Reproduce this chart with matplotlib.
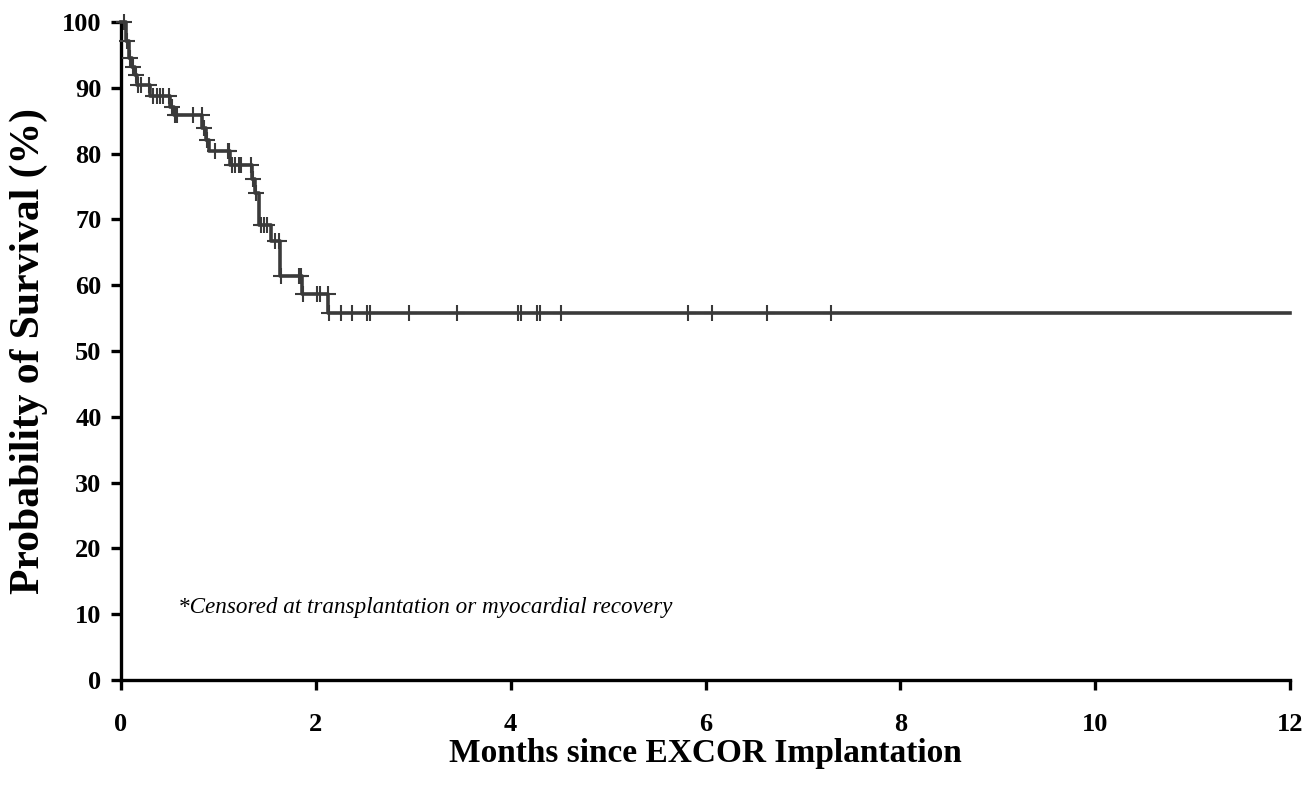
import numpy as np
import matplotlib
matplotlib.use("Agg")
import matplotlib.pyplot as plt

# Kaplan-Meier step data (months, % surviving)
event_times = [0, 0.05, 0.08, 0.11, 0.14, 0.16, 0.30, 0.50, 0.54, 0.835, 0.87, 0.90,
               1.12, 1.34, 1.375, 1.42, 1.54, 1.63, 1.86, 2.13]
survival = [100, 97.1, 94.5, 93.1, 91.9, 90.4, 88.8, 87.1, 85.8, 83.9, 82.1, 80.4,
            78.3, 76.2, 74.0, 69.1, 66.7, 61.4, 58.6, 55.7]
follow_up_end = 12.0

# censored observations (months)
censor_times = [0.03, 0.06, 0.09, 0.12, 0.15, 0.17, 0.21, 0.29,
                0.33, 0.37, 0.40, 0.43, 0.49, 0.52, 0.55, 0.57, 0.74, 0.83,
                0.85, 0.88, 0.965, 1.10, 1.11, 1.14, 1.17, 1.21, 1.23, 1.33,
                1.36, 1.39, 1.44, 1.47, 1.50, 1.58, 1.62, 1.64, 1.83, 1.85,
                1.87, 2.01, 2.04, 2.12, 2.14, 2.26, 2.37, 2.53, 2.56, 2.96,
                3.45, 4.08, 4.11, 4.27, 4.30, 4.52, 5.82, 6.07, 6.63, 7.29]

x_ticks = [0, 2, 4, 6, 8, 10, 12]
y_ticks = [0, 10, 20, 30, 40, 50, 60, 70, 80, 90, 100]

plt.rcParams['font.family'] = ['Liberation Serif', 'DejaVu Serif']

fig = plt.figure(figsize=(13.1, 7.91), dpi=100)
ax = fig.add_axes([121 / 1310, 1 - 680 / 791, (1290 - 121) / 1310, (680 - 22) / 791])

step_x = np.append(event_times, follow_up_end)
step_y = np.append(survival, survival[-1])
ax.step(step_x, step_y, where='post', color='#3a3a3a', lw=2.6, clip_on=False, zorder=3)

idx = np.searchsorted(event_times, censor_times, side='right') - 1
censor_y = np.array(survival)[idx]
ax.plot(censor_times, censor_y, ls='none', marker='+', ms=11, mew=1.5,
        color='#3a3a3a', clip_on=False, zorder=4)

ax.set_xlim(0, 12)
ax.set_ylim(0, 100)
ax.set_xticks(x_ticks)
ax.set_yticks(y_ticks)

for side in ['top', 'right']:
    ax.spines[side].set_visible(False)
for side in ['left', 'bottom']:
    ax.spines[side].set_linewidth(2.4)
    ax.spines[side].set_color('black')

ax.tick_params(axis='both', length=7, width=2.4, color='black', direction='out')
ax.tick_params(axis='y', pad=7, labelsize=19)
ax.tick_params(axis='x', pad=17, labelsize=19)
for lab in ax.get_xticklabels() + ax.get_yticklabels():
    lab.set_fontweight('bold')

ax.set_ylabel('Probability of Survival (%)', fontsize=30, fontweight='bold', labelpad=10)
ax.set_xlabel('Months since EXCOR Implantation', fontsize=24, fontweight='bold', labelpad=1)

ax.text(0.585, 11, '*Censored at transplantation or myocardial recovery',
        fontsize=16.7, style='italic', va='center', ha='left')

fig.savefig('out.png', dpi=100)
